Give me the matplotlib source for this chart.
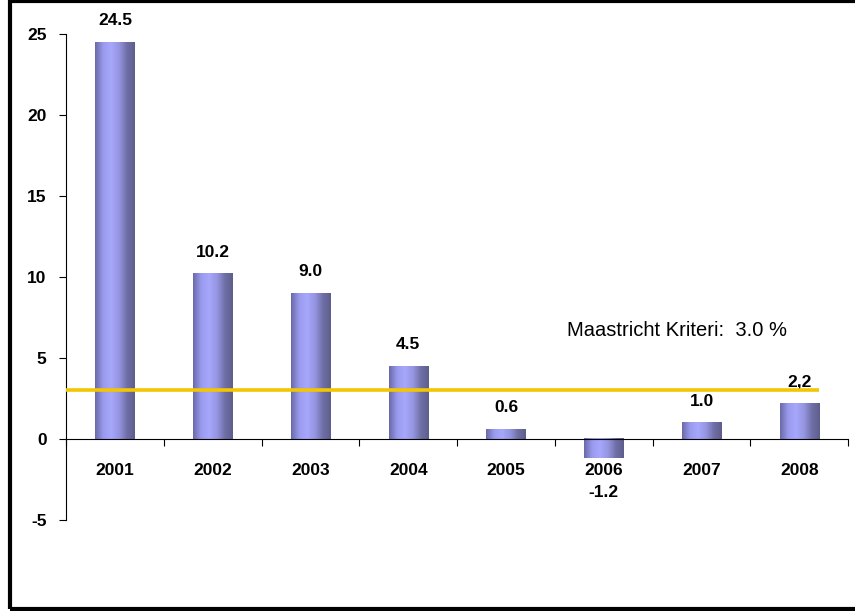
import numpy as np
import matplotlib.pyplot as plt
from matplotlib.colors import LinearSegmentedColormap
from matplotlib.patches import Rectangle

years = ['2001', '2002', '2003', '2004', '2005', '2006', '2007', '2008']
values = [24.5, 10.2, 9.0, 4.5, 0.6, -1.2, 1.0, 2.2]
value_labels = ['24.5', '10.2', '9.0', '4.5', '0.6', '-1.2', '1.0', '2,2']
criterion = 3.0
criterion_label = 'Maastricht Kriteri:  3.0 %'
y_ticks = [-5, 0, 5, 10, 15, 20, 25]

plt.rcParams['font.family'] = ['Liberation Sans', 'DejaVu Sans']

# horizontal shading used inside every bar
bar_cmap = LinearSegmentedColormap.from_list(
    'bar_shade', ['#6a6aaa', '#9a9aee', '#a6a6fc', '#9696e2', '#7070a8', '#5e5e8c'])
shade = np.linspace(0, 1, 64).reshape(1, -1)

fig = plt.figure(figsize=(8.55, 6.11), dpi=100)
ax = fig.add_axes([0.0772, 0.149, 0.9148, 0.7955])

x = np.arange(len(years))
bar_w = 0.4
bars = ax.bar(x, values, width=bar_w, color='none', edgecolor='none', zorder=2)
for b in bars:
    x0, y0 = b.get_x(), b.get_y()
    w, h = b.get_width(), b.get_height()
    ax.imshow(shade, cmap=bar_cmap, aspect='auto', zorder=2,
              extent=[x0, x0 + w, y0, y0 + h])

for xi, v, lab in zip(x, values, value_labels):
    if v >= 0:
        ax.annotate(lab, (xi, v), xytext=(0, 10), textcoords='offset points',
                    ha='center', va='bottom', fontsize=12.5, fontweight='bold',
                    annotation_clip=False)
    else:
        ax.annotate(lab, (xi, v), xytext=(0, -19), textcoords='offset points',
                    ha='center', va='top', fontsize=12.5, fontweight='bold',
                    annotation_clip=False)

ax.set_xlim(-0.5, len(years) - 0.5)
ax.set_ylim(-5, 25)

# Maastricht criterion line
ax.hlines(criterion, -0.5, x[-1] + bar_w / 2, color='#f2c600', linewidth=2.6, zorder=3)
ax.text(4.62, 6.7, criterion_label, fontsize=14.5, ha='left', va='center')

ax.spines['top'].set_visible(False)
ax.spines['right'].set_visible(False)
ax.spines['bottom'].set_position(('data', 0))
ax.spines['left'].set_linewidth(0.8)
ax.spines['bottom'].set_linewidth(0.8)

ax.set_yticks(y_ticks)
ax.set_yticklabels([str(t) for t in y_ticks], fontsize=12.5, fontweight='bold')
ax.tick_params(axis='y', direction='out', length=5, width=0.8, pad=9)

# boundary ticks on the x axis, year names centred under each bar
ax.set_xticks(np.arange(len(years) + 1) - 0.5)
ax.set_xticklabels([])
ax.tick_params(axis='x', which='major', direction='out', length=5, width=0.8)
ax.set_xticks(x, minor=True)
ax.set_xticklabels(years, minor=True, fontsize=12.5, fontweight='bold')
ax.tick_params(axis='x', which='minor', length=0, pad=17)

fig.patches.append(Rectangle((0.0115, 0.0025), 1.0, 0.9955, transform=fig.transFigure,
                             fill=False, edgecolor='black', linewidth=3))

fig.savefig('out.png', dpi=100)
